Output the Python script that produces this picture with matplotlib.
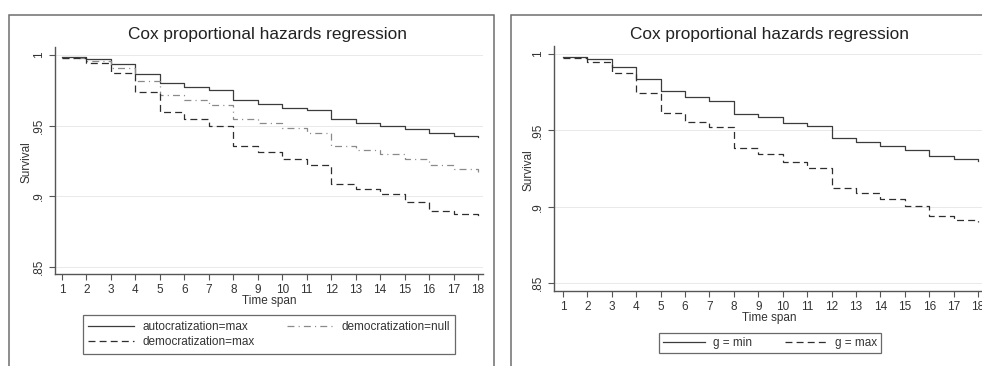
import matplotlib
matplotlib.use("Agg")
import matplotlib.pyplot as plt
from matplotlib.patches import Rectangle
from matplotlib.lines import Line2D

plt.rcParams["font.family"] = ["Liberation Sans", "DejaVu Sans"]
plt.rcParams["lines.scale_dashes"] = False

# ---- data -------------------------------------------------------------
time_span = list(range(1, 19))

# left model: regime-change covariates
autocratization_max = [0.9988, 0.9970, 0.9936, 0.9868, 0.9800, 0.9771, 0.9750, 0.9680, 0.9655,
                       0.9627, 0.9613, 0.9545, 0.9520, 0.9500, 0.9476, 0.9446, 0.9427, 0.9420]
democratization_null = [0.9982, 0.9960, 0.9906, 0.9816, 0.9717, 0.9680, 0.9644, 0.9547, 0.9517,
                        0.9481, 0.9450, 0.9358, 0.9328, 0.9297, 0.9264, 0.9220, 0.9190, 0.9174]
democratization_max = [0.9976, 0.9946, 0.9870, 0.9736, 0.9597, 0.9545, 0.9495, 0.9356, 0.9311,
                       0.9262, 0.9224, 0.9087, 0.9050, 0.9014, 0.8960, 0.8896, 0.8873, 0.8860]

# right model: g at its minimum and maximum
g_min = [0.9978, 0.9965, 0.9917, 0.9838, 0.9760, 0.9720, 0.9694, 0.9607, 0.9590,
         0.9550, 0.9530, 0.9448, 0.9422, 0.9398, 0.9371, 0.9330, 0.9310, 0.9300]
g_max = [0.9974, 0.9945, 0.9873, 0.9742, 0.9616, 0.9555, 0.9520, 0.9384, 0.9345,
         0.9293, 0.9255, 0.9122, 0.9092, 0.9048, 0.9005, 0.8941, 0.8915, 0.8902]

y_ticks = [0.85, 0.9, 0.95, 1.0]
y_tick_labels = [".85", ".9", ".95", "1"]

title = "Cox proportional hazards regression"

# ---- layout helpers ---------------------------------------------------
W, H = 982, 366
fig = plt.figure(figsize=(W / 100, H / 100), dpi=100)
fig.patch.set_facecolor("white")


def fx(px):
    return px / W


def fy(py):
    return 1 - py / H


def add_panel(x0, y0, x1):
    fig.patches.append(Rectangle((fx(x0), fy(y0 + 400)), fx(x1 - x0), (y0 + 400 - y0) / H * 1.0,
                                 transform=fig.transFigure, fill=False,
                                 edgecolor="#6e6e6e", lw=1.1, zorder=0))


def style_axes(ax, ylim, xlim):
    ax.set_xlim(*xlim)
    ax.set_ylim(*ylim)
    for side in ("top", "right"):
        ax.spines[side].set_visible(False)
    for side in ("left", "bottom"):
        ax.spines[side].set_color("#555555")
        ax.spines[side].set_linewidth(1.0)
    ax.set_xticks(time_span)
    ax.set_xticklabels([str(t) for t in time_span])
    ax.set_yticks(y_ticks)
    ax.set_yticklabels(y_tick_labels, rotation=90, va="center")
    ax.tick_params(axis="both", direction="out", length=4, width=0.8,
                   color="#555555", labelsize=8.5, labelcolor="#333333")
    ax.tick_params(axis="x", pad=3)
    ax.tick_params(axis="y", pad=3)
    ax.grid(axis="y", color="#e9e9e9", lw=0.7)
    ax.set_axisbelow(True)
    ax.patch.set_alpha(0)


solid = dict(color="#3c3c3c", lw=0.9, linestyle="-")
dashed = dict(color="#2e2e2e", lw=0.9, linestyle=(0, (5.0, 3.0)))
dashdot = dict(color="#8a8a8a", lw=0.9, linestyle=(0, (5.0, 3.0, 0.8, 3.0)))

# outer graph regions
add_panel(9, 15, 494)
add_panel(511, 15, 1000)

# ---- left panel -------------------------------------------------------
axL = fig.add_axes([fx(55), fy(274), fx(483 - 55), (274 - 47) / H])
style_axes(axL, (1 - (274 - 55) / 1413, 1 + 8 / 1413), (1 - 7 / 24.47, 18 + 5 / 24.47))
l1, = axL.plot(time_span, autocratization_max, drawstyle="steps-post", **solid)
l2, = axL.plot(time_span, democratization_null, drawstyle="steps-post", **dashdot)
l3, = axL.plot(time_span, democratization_max, drawstyle="steps-post", **dashed)

fig.text(fx(268), fy(35), title, ha="center", va="center", fontsize=12.4, color="#222222")
fig.text(fx(27), fy(162), "Survival", ha="center", va="center", rotation=90,
         fontsize=8.5, color="#333333")
fig.text(fx(269), fy(301), "Time span", ha="center", va="center", fontsize=8.5, color="#333333")

legL = fig.legend([l1, l3, l2],
                  ["autocratization=max", "democratization=max", "democratization=null"],
                  ncol=2, loc="center",
                  bbox_to_anchor=(fx(83), fy(354), fx(455 - 83), 39 / H),
                  bbox_transform=fig.transFigure, mode="expand",
                  fontsize=8.5, handlelength=3.9, handletextpad=0.68,
                  labelspacing=0.3, borderpad=0.45, columnspacing=2.0,
                  fancybox=False, frameon=True, borderaxespad=0)
legL.get_frame().set_edgecolor("#444444")
legL.get_frame().set_linewidth(0.9)
for t in legL.get_texts():
    t.set_color("#333333")

# ---- right panel ------------------------------------------------------
axR = fig.add_axes([fx(554), fy(291), fx(983 - 554), (291 - 46) / H])
style_axes(axR, (1 - (291 - 54) / 1527, 1 + 8 / 1527), (1 - 9 / 24.41, 18 + 5 / 24.41))
r1, = axR.plot(time_span, g_min, drawstyle="steps-post", **solid)
r2, = axR.plot(time_span, g_max, drawstyle="steps-post", **dashed)

fig.text(fx(769), fy(34), title, ha="center", va="center", fontsize=12.4, color="#222222")
fig.text(fx(528), fy(170), "Survival", ha="center", va="center", rotation=90,
         fontsize=8.5, color="#333333")
fig.text(fx(769), fy(318), "Time span", ha="center", va="center", fontsize=8.5, color="#333333")

legR = fig.legend([r1, r2], ["g = min", "g = max"], ncol=2, loc="center",
                  bbox_to_anchor=(fx(659), fy(354), fx(881 - 659), 22 / H),
                  bbox_transform=fig.transFigure, mode="expand",
                  fontsize=8.5, handlelength=3.6, handletextpad=0.7,
                  borderpad=0.3, columnspacing=1.5,
                  fancybox=False, frameon=True, borderaxespad=0)
legR.get_frame().set_edgecolor("#444444")
legR.get_frame().set_linewidth(0.9)
for t in legR.get_texts():
    t.set_color("#333333")

fig.savefig("out.png", dpi=100)
